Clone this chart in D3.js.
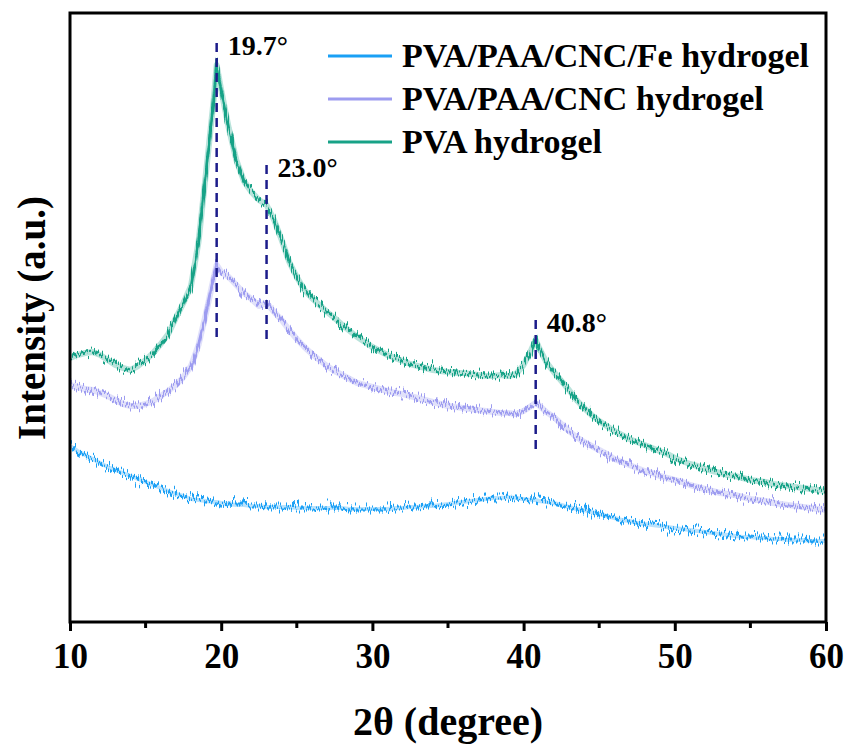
<!DOCTYPE html>
<html>
<head>
<meta charset="utf-8">
<script src="https://cdn.jsdelivr.net/npm/d3@7"></script>
<style>
  body { margin: 0; background: #fff; }
  svg text { font-family: "Liberation Serif", "Times New Roman", serif; font-weight: bold; fill: #000; }
</style>
</head>
<body>
<svg id="chart" width="848" height="744"></svg>
<script>
// 2theta angles (degree), shared by all three patterns
var angles = [10, 10.5, 11, 11.5, 12, 12.5, 13, 13.5, 14, 14.5, 15, 15.5, 16, 16.5, 17, 17.5, 18, 18.5, 19, 19.5, 19.7,
  20, 20.5, 21, 21.5, 22, 22.5, 23, 23.5, 24, 24.5, 25, 25.5, 26, 26.5, 27, 27.5, 28, 28.5, 29, 29.5,
  30, 30.5, 31, 31.5, 32, 32.5, 33, 33.5, 34, 34.5, 35, 35.5, 36, 36.5, 37, 37.5, 38, 38.5, 39, 39.5,
  40, 40.5, 40.8, 41, 41.5, 42, 42.5, 43, 43.5, 44, 44.5, 45, 45.5, 46, 46.5, 47, 47.5, 48, 48.5, 49, 49.5,
  50, 50.5, 51, 51.5, 52, 52.5, 53, 53.5, 54, 54.5, 55, 55.5, 56, 56.5, 57, 57.5, 58, 58.5, 59, 59.5, 60];

// intensities (a.u.)
var pvaHydrogel = [264, 267, 269, 270, 267, 262, 257, 254, 252, 256, 262, 269, 278, 288, 304, 319, 336, 380, 450, 522, 557,
  532, 494, 462, 441, 430, 422, 417, 402, 382, 360, 345, 332, 324, 317, 310, 304, 297, 291, 285, 280,
  275, 271, 267, 264, 261, 258, 256, 254, 252, 251, 250, 249, 249, 248, 247, 246, 246, 247, 246, 248,
  257, 272, 282, 275, 260, 250, 241, 232, 222, 214, 207, 201, 196, 191, 187, 183, 180, 177, 174, 171, 168,
  164, 161, 158, 156, 153, 151, 149, 147, 146, 144, 142, 141, 140, 138, 137, 136, 135, 134, 133, 132, 131];

var cncHydrogel = [237, 235, 233, 232, 229, 226, 222, 218, 216, 216, 218, 221, 226, 231, 237, 245, 256, 277, 309, 344, 357,
  350, 345, 337, 329, 323, 316, 319, 310, 302, 292, 283, 275, 268, 262, 256, 251, 247, 243, 239, 237,
  235, 233, 231, 229, 228, 226, 224, 222, 220, 218, 216, 215, 214, 213, 212, 211, 210, 209, 209, 208,
  211, 216, 219, 217, 210, 205, 198, 191, 185, 180, 176, 172, 168, 163, 160, 157, 154, 151, 149, 146, 144,
  142, 140, 137, 135, 133, 131, 129, 128, 127, 125, 123, 122, 121, 119, 118, 117, 116, 115, 114, 113, 112];

var feHydrogel = [176, 171, 167, 163, 159, 155, 152, 149, 146, 143, 140, 137, 134, 131, 128, 126, 123, 122, 121, 120, 120,
  119, 118, 117, 117, 116, 116, 115, 115, 115, 115, 114, 114, 114, 114, 114, 114, 114, 113, 113, 113,
  113, 113, 113, 114, 114, 115, 115, 116, 116, 117, 118, 119, 120, 121, 122, 123, 124, 124, 125, 124,
  123, 122, 122, 121, 120, 119, 117, 115, 113, 112, 110, 108, 106, 104, 102, 101, 99, 98, 97, 96, 95,
  94, 93, 92, 91, 90, 89, 88, 87, 86, 85, 85, 84, 84, 83, 83, 82, 82, 82, 81, 81, 81];

var seriesNames = ["PVA/PAA/CNC/Fe hydrogel", "PVA/PAA/CNC hydrogel", "PVA hydrogel"];
var seriesColors = ["#1aa0f5", "#9d9cf0", "#17a287"];

// marked peaks: angle, top and bottom of the dashed marker
var peakAngles = [19.7, 23.0, 40.8];
var peakLabels = ["19.7°", "23.0°", "40.8°"];
var peakTop = [579, 457, 302];
var peakBottom = [282, 280, 172];

var xTicks = [10, 20, 30, 40, 50, 60];
var xMinorTicks = [15, 25, 35, 45, 55];

var svg = d3.select("#chart");
var margin = {top: 13, right: 22, bottom: 122, left: 70};
var width = 848 - margin.left - margin.right;
var height = 744 - margin.top - margin.bottom;

// jitter filter so the traces look like raw, noisy scans
var defs = svg.append("defs");
var filt = defs.append("filter")
  .attr("id", "scan")
  .attr("filterUnits", "userSpaceOnUse")
  .attr("x", 0).attr("y", 0).attr("width", 848).attr("height", 744);
filt.append("feTurbulence")
  .attr("type", "fractalNoise")
  .attr("baseFrequency", "0.75 0.03")
  .attr("numOctaves", 2)
  .attr("seed", 3)
  .attr("result", "noise");
filt.append("feColorMatrix")
  .attr("in", "noise")
  .attr("type", "matrix")
  .attr("values", "0 0 0 0 0.5  0 1 0 0 0  0 0 1 0 0  0 0 0 0 1")
  .attr("result", "vnoise");
filt.append("feDisplacementMap")
  .attr("in", "SourceGraphic")
  .attr("in2", "vnoise")
  .attr("scale", 22)
  .attr("xChannelSelector", "R")
  .attr("yChannelSelector", "G");

var g = svg.append("g").attr("transform", "translate(" + margin.left + "," + margin.top + ")");

var x = d3.scaleLinear().domain([10, 60]).range([0, width]);
var y = d3.scaleLinear().domain([0, 609]).range([height, 0]);

var line = d3.line()
  .x(function(d) { return x(d[0]); })
  .y(function(d) { return y(d[1]); });

var allSeries = [feHydrogel, cncHydrogel, pvaHydrogel];

allSeries.forEach(function(vals, i) {
  var pts = angles.map(function(a, k) { return [a, vals[k]]; });
  g.append("path")
    .datum(pts)
    .attr("fill", "none")
    .attr("stroke", seriesColors[i])
    .attr("stroke-opacity", 0.3)
    .attr("stroke-width", i === 0 ? 4 : 6)
    .attr("stroke-linejoin", "round")
    .attr("d", line);
  g.append("g").attr("filter", "url(#scan)")
    .append("path")
    .datum(pts)
    .attr("fill", "none")
    .attr("stroke", seriesColors[i])
    .attr("stroke-width", 3)
    .attr("stroke-linejoin", "round")
    .attr("d", line);
});

// peak markers
peakAngles.forEach(function(a, i) {
  g.append("line")
    .attr("x1", x(a)).attr("x2", x(a))
    .attr("y1", y(peakTop[i])).attr("y2", y(peakBottom[i]))
    .attr("stroke", "#1c1c8a")
    .attr("stroke-width", 2.5)
    .attr("stroke-dasharray", "9,6");
  g.append("text")
    .attr("x", x(a) + 11)
    .attr("y", y(peakTop[i]) + 12)
    .style("font-size", "28px")
    .text(peakLabels[i]);
});

// frame
g.append("rect")
  .attr("width", width).attr("height", height)
  .attr("fill", "none")
  .attr("stroke", "#000")
  .attr("stroke-width", 3);

// x axis
var xAxis = g.append("g")
  .attr("transform", "translate(0," + height + ")")
  .call(d3.axisBottom(x).tickValues(xTicks).tickSize(9).tickPadding(12).tickFormat(d3.format("d")));
xAxis.select(".domain").remove();
xAxis.selectAll("line").attr("stroke-width", 3);
xAxis.selectAll("text").style("font-size", "35px").style("font-family", "Liberation Serif").style("font-weight", "bold");

g.append("g")
  .attr("transform", "translate(0," + height + ")")
  .selectAll("line")
  .data(xMinorTicks)
  .enter().append("line")
  .attr("x1", function(d) { return x(d); })
  .attr("x2", function(d) { return x(d); })
  .attr("y1", 0).attr("y2", 6)
  .attr("stroke", "#000")
  .attr("stroke-width", 3);

// axis titles
svg.append("text")
  .attr("x", margin.left + width / 2)
  .attr("y", 735)
  .attr("text-anchor", "middle")
  .style("font-size", "40px")
  .text("2θ (degree)");

svg.append("text")
  .attr("transform", "translate(45," + (margin.top + 305) + ") rotate(-90)")
  .attr("text-anchor", "middle")
  .style("font-size", "39px")
  .text("Intensity (a.u.)");

// legend
var legend = svg.append("g");
seriesNames.forEach(function(name, i) {
  var ly = 56 + i * 43;
  legend.append("line")
    .attr("x1", 328).attr("x2", 392)
    .attr("y1", ly).attr("y2", ly)
    .attr("stroke", seriesColors[i])
    .attr("stroke-width", 3);
  legend.append("text")
    .attr("x", 402)
    .attr("y", ly + 11)
    .style("font-size", "34px")
    .text(name);
});
</script>
</body>
</html>
